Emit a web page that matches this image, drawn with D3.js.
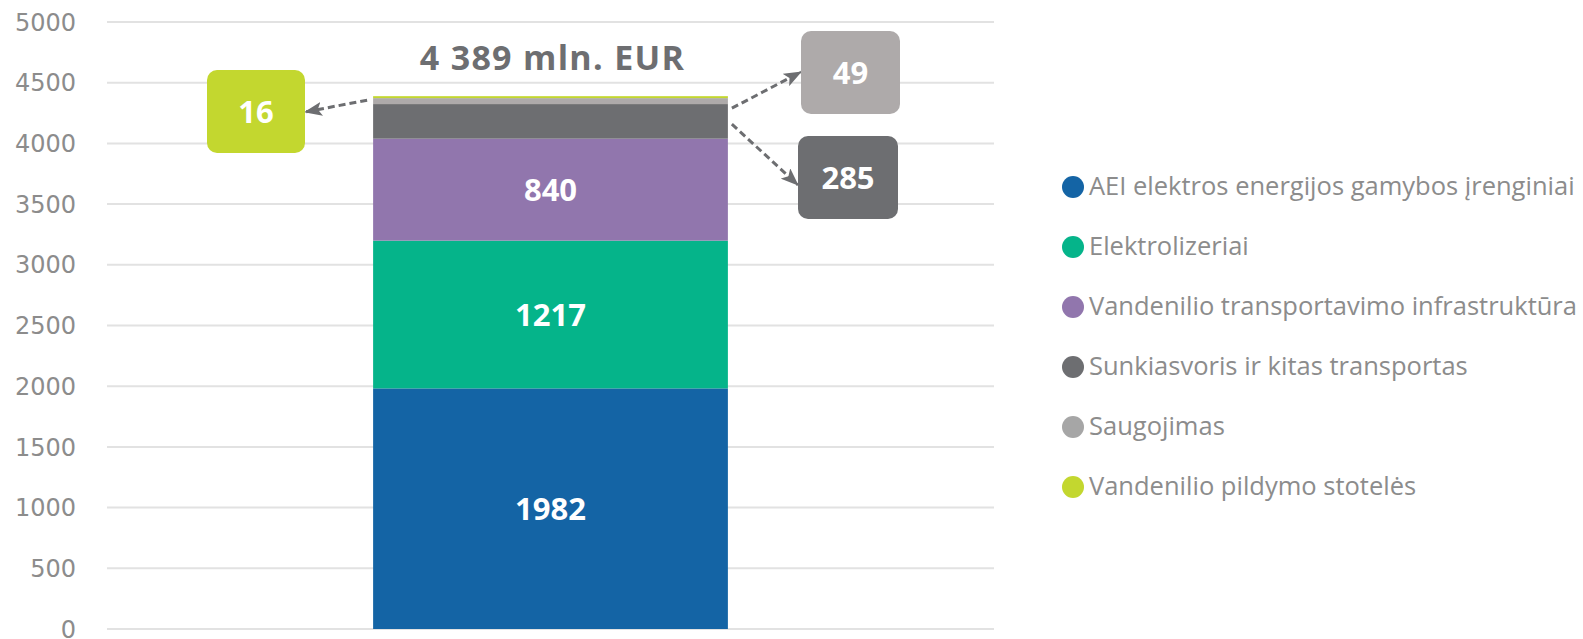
<!DOCTYPE html>
<html>
<head>
<meta charset="utf-8">
<script src="https://cdn.jsdelivr.net/npm/d3@7"></script>
<style>
html,body{margin:0;padding:0;background:#fff;}
svg{display:block;}
</style>
</head>
<body>
<svg id="chart" width="1583" height="639"></svg>
<script>
const categories = ["2030"];
const seriesNames = [
  "AEI elektros energijos gamybos įrenginiai",
  "Elektrolizeriai",
  "Vandenilio transportavimo infrastruktūra",
  "Sunkiasvoris ir kitas transportas",
  "Saugojimas",
  "Vandenilio pildymo stotelės"
];
const seriesValues = [1982, 1217, 840, 285, 49, 16];
const seriesColors = ["#1464a5", "#05b48a", "#9176ad", "#6d6e71", "#aeaaaa", "#c3d72f"];
const legendColors = ["#1464a5", "#05b48a", "#9176ad", "#6d6e71", "#a6a6a6", "#c3d72f"];
const yTicks = [0, 500, 1000, 1500, 2000, 2500, 3000, 3500, 4000, 4500, 5000];
const totalLabel = "4 389 mln. EUR";

const svg = d3.select("#chart");
const x = d3.scaleBand().domain(categories).range([107, 994]).paddingInner(0.4286).paddingOuter(0.4286);
const y = d3.scaleLinear().domain([0, 5000]).range([629, 22]);

// gridlines
svg.append("g").selectAll("line").data(yTicks).join("line")
  .attr("x1", 107).attr("x2", 994)
  .attr("y1", d => y(d)).attr("y2", d => y(d))
  .attr("stroke", "#e2e2e2").attr("stroke-width", 2);

// y axis
const yAxis = d3.axisLeft(y).tickValues(yTicks).tickFormat(d3.format("d")).tickSize(0).tickPadding(0);
const gy = svg.append("g").attr("transform", "translate(76,0)").call(yAxis);
gy.select(".domain").remove();
gy.selectAll("text").attr("font-family", "DejaVu Sans").attr("font-size", 24).attr("fill", "#8c8c8c").attr("dy", "0.34em");

// stack
const row = {cat: categories[0]};
seriesNames.forEach((n, i) => row[n] = seriesValues[i]);
const stack = d3.stack().keys(seriesNames)([row]);

svg.append("g").selectAll("rect").data(stack).join("rect")
  .attr("x", x(categories[0]))
  .attr("width", x.bandwidth())
  .attr("y", d => y(d[0][1]))
  .attr("height", d => y(d[0][0]) - y(d[0][1]))
  .attr("fill", (d, i) => seriesColors[i]);

// inner labels for big segments
const cx = x(categories[0]) + x.bandwidth() / 2;
svg.append("g").selectAll("text").data(stack.filter((d, i) => i < 3)).join("text")
  .attr("x", cx)
  .attr("y", d => (y(d[0][0]) + y(d[0][1])) / 2)
  .attr("dy", "0.36em")
  .attr("text-anchor", "middle")
  .attr("font-family", "Open Sans").attr("font-weight", 700).attr("font-size", 31)
  .attr("fill", "#fff")
  .text((d, i) => seriesValues[i]);

// total
const total = d3.sum(seriesValues);
svg.append("text").attr("x", cx + 2).attr("y", 70)
  .attr("text-anchor", "middle")
  .attr("font-family", "Open Sans").attr("font-weight", 700).attr("font-size", 34)
  .attr("letter-spacing", 1.3)
  .attr("fill", "#6d6e71").text(totalLabel);

// arrow marker
const defs = svg.append("defs");
defs.append("marker").attr("id", "arr").attr("viewBox", "0 0 18 14")
  .attr("refX", 17).attr("refY", 7).attr("markerWidth", 18).attr("markerHeight", 14)
  .attr("markerUnits", "userSpaceOnUse")
  .attr("orient", "auto")
  .append("path").attr("d", "M0,0 L18,7 L0,14 L4,7 z").attr("fill", "#6d6e71");

// callouts
const barL = x(categories[0]), barR = barL + x.bandwidth();
const callouts = [
  {idx: 5, bx: 207, by: 70, bw: 98, bh: 83, from: [barL - 6, y(total) + 4], to: [305, 112]},
  {idx: 4, bx: 801, by: 31, bw: 99, bh: 83, from: [barR + 4, y(total) + 12], to: [801, 72]},
  {idx: 3, bx: 798, by: 136, bw: 100, bh: 83, from: [barR + 4, y(total) + 28], to: [798, 185]}
];
const cg = svg.append("g");
callouts.forEach(c => {
  cg.append("line").attr("x1", c.from[0]).attr("y1", c.from[1]).attr("x2", c.to[0]).attr("y2", c.to[1])
    .attr("stroke", "#6d6e71").attr("stroke-width", 3).attr("stroke-dasharray", "7,4")
    .attr("marker-end", "url(#arr)");
  cg.append("rect").attr("x", c.bx).attr("y", c.by).attr("width", c.bw).attr("height", c.bh)
    .attr("rx", 10).attr("fill", seriesColors[c.idx]);
  cg.append("text").attr("x", c.bx + c.bw / 2).attr("y", c.by + c.bh / 2).attr("dy", "0.36em")
    .attr("text-anchor", "middle")
    .attr("font-family", "Open Sans").attr("font-weight", 700).attr("font-size", 31)
    .attr("fill", "#fff").text(seriesValues[c.idx]);
});

// legend
const lg = svg.append("g");
seriesNames.forEach((n, i) => {
  const ly = 187 + i * 60;
  lg.append("circle").attr("cx", 1073).attr("cy", ly).attr("r", 11).attr("fill", legendColors[i]);
  lg.append("text").attr("x", 1089).attr("y", ly).attr("dy", "0.33em")
    .attr("font-family", "Open Sans").attr("font-size", 25.5).attr("fill", "#8c8c8c").text(n);
});
</script>
</body>
</html>
